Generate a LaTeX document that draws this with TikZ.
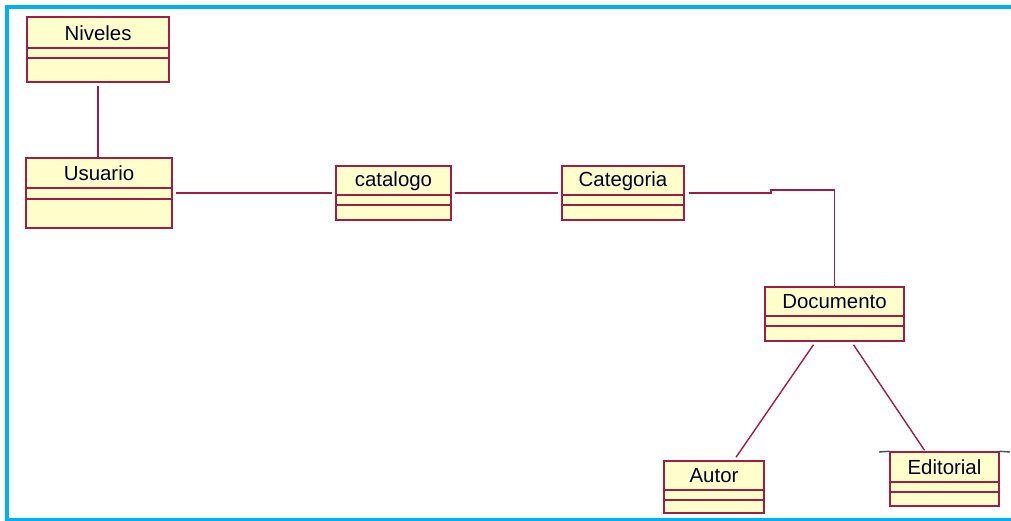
\documentclass[tikz,border=0pt]{standalone}
\usepackage{fontspec}
\setmainfont{Liberation Sans}
\usetikzlibrary{fit,calc}
\definecolor{umlline}{RGB}{160,30,70}
\definecolor{umlfill}{RGB}{255,255,204}
\definecolor{frameblue}{RGB}{0,176,240}
\tikzset{
  cls/.style={draw=umlline, fill=umlfill, line width=1.4bp, inner sep=0pt, rectangle},
  divider/.style={draw=umlline, line width=1.4bp},
  clsname/.style={font=\fontsize{20.5}{22}\selectfont, text=black!85!blue, inner sep=0pt, anchor=center},
  assoc/.style={draw=umlline, line width=1.4bp},
  stub/.style={draw=black!70, line width=1.4bp}
}
\newcommand\umlbox[8]{%
  \node[cls, fit={(#2,#3) (#4,#5)}] (#1) {};
  \draw[divider] (#2,#6) -- (#4,#6);
  \draw[divider] (#2,#7) -- (#4,#7);
  \node[clsname] (#1-name) at ({(#2+#4)/2},{(#3+#6)/2+0.5}) {#8};
}
\begin{document}
\begin{tikzpicture}[x=1bp,y=-1bp]
\useasboundingbox (0,0) rectangle (1011,521);
% frame
\fill[frameblue] (5,5) rectangle (1011,9);
\fill[frameblue] (5,5) rectangle (9,521);
\fill[frameblue] (5,517.5) rectangle (1011,521);
% classes
\umlbox{niveles}{27}{17}{169}{82}{48}{58}{Niveles}
\umlbox{usuario}{26}{158}{172}{228}{188}{199}{Usuario}
\umlbox{catalogo}{336}{166}{451}{220}{195}{205}{catalogo}
\umlbox{categoria}{562}{166}{684}{220}{195}{205}{Categoria}
\umlbox{documento}{765}{287}{904}{341}{316}{326}{Documento}
\umlbox{autor}{664}{461}{764}{513}{490}{500}{Autor}
\umlbox{editorial}{890}{452}{999}{506}{482}{492}{Editorial}
% stubs beside Editorial
\coordinate (stubL) at (879,452);
\coordinate (stubR) at (1010,452);
\draw[stub] (stubL) -- (editorial.north west);
\draw[stub] (editorial.north east) -- (stubR);
% associations
\draw[assoc, shorten <=3bp] (niveles.south) -- (niveles.south |- usuario.north);
\draw[assoc, shorten <=3bp, shorten >=3bp] (usuario.east) -- (catalogo.west);
\draw[assoc, shorten <=3bp, shorten >=3bp] (catalogo.east) -- (categoria.west);
\coordinate (stepA) at (771,193);
\coordinate (stepB) at (771,190);
\draw[assoc] ([xshift=4bp]categoria.east) -- (stepA) -- (stepB) -| (documento.north);
\draw[assoc] ([xshift=-21bp,yshift=-3bp]documento.south) -- ([xshift=22bp,yshift=3bp]autor.north);
\draw[assoc] ([xshift=19bp,yshift=-3bp]documento.south) -- ([xshift=-20bp,yshift=1bp]editorial.north);
\end{tikzpicture}
\end{document}
